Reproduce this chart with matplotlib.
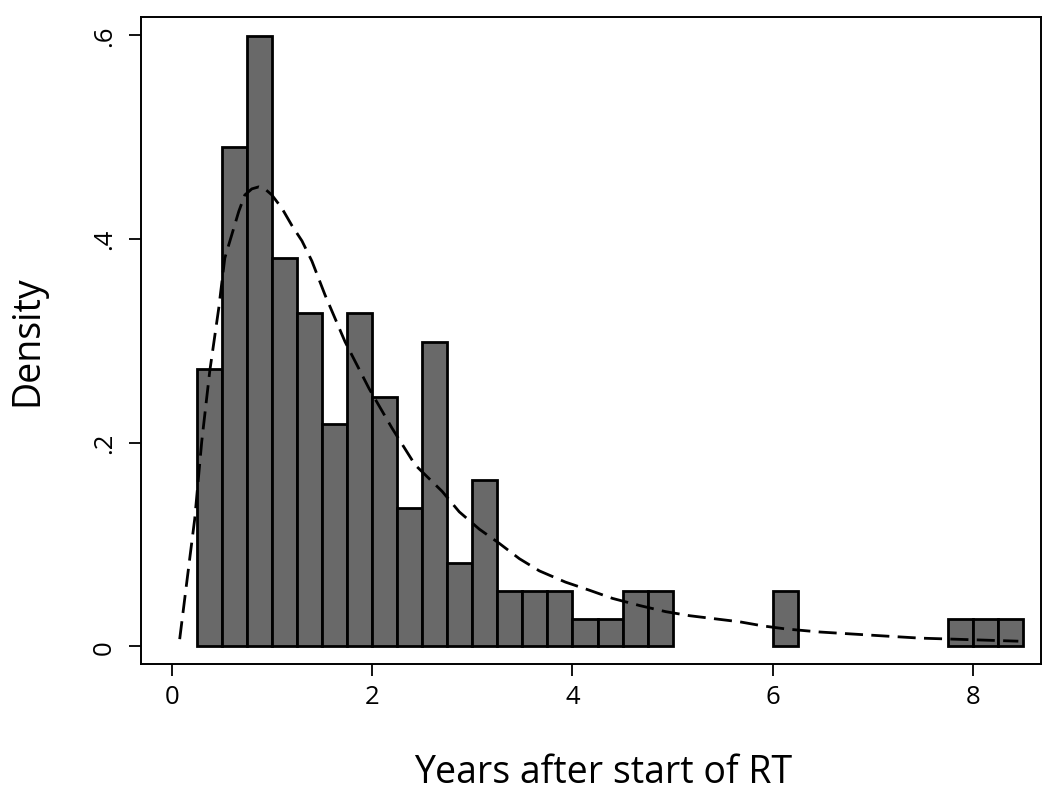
import matplotlib
matplotlib.use("Agg")
import matplotlib.pyplot as plt

# histogram bins (width 0.25), only non-empty bins
BIN_WIDTH = 0.25
bin_left = [0.25, 0.5, 0.75, 1.0, 1.25, 1.5, 1.75, 2.0, 2.25, 2.5, 2.75, 3.0,
            3.25, 3.5, 3.75, 4.0, 4.25, 4.5, 4.75, 6.0, 7.75, 8.0, 8.25]
density = [0.272, 0.490, 0.599, 0.381, 0.327, 0.218, 0.327, 0.245, 0.136,
           0.299, 0.082, 0.163, 0.054, 0.054, 0.054, 0.027, 0.027, 0.054,
           0.054, 0.054, 0.027, 0.027, 0.027]

# dashed fitted density curve
curve_x = [0.08, 0.18, 0.23, 0.30, 0.38, 0.47, 0.53, 0.60, 0.67, 0.73, 0.80,
           0.87, 0.93, 1.00, 1.10, 1.20, 1.30, 1.40, 1.53, 1.73, 1.97, 2.20,
           2.43, 2.70, 2.87, 3.07, 3.27, 3.47, 3.67, 3.93, 4.17, 4.40, 4.67,
           4.93, 5.17, 5.67, 5.90, 6.13, 6.47, 6.80, 7.13, 7.47, 7.80, 8.45]
curve_y = [0.007, 0.086, 0.125, 0.201, 0.270, 0.332, 0.381, 0.404, 0.427,
           0.443, 0.449, 0.451, 0.449, 0.443, 0.430, 0.413, 0.398, 0.378,
           0.345, 0.299, 0.253, 0.214, 0.178, 0.152, 0.132, 0.115, 0.101,
           0.086, 0.074, 0.063, 0.055, 0.047, 0.040, 0.034, 0.030, 0.024,
           0.020, 0.017, 0.014, 0.012, 0.010, 0.008, 0.007, 0.005]

x_ticks = [0, 2, 4, 6, 8]
x_ticklabels = ["0", "2", "4", "6", "8"]
y_ticks = [0, 0.2, 0.4, 0.6]
y_ticklabels = ["0", ".2", ".4", ".6"]

plt.rcParams["font.family"] = ["Open Sans", "DejaVu Sans"]

fig = plt.figure(figsize=(10.5, 8.04), dpi=100)
ax = fig.add_axes([0.1343, 0.1725, 0.8571, 0.8047])

ax.bar(bin_left, density, width=BIN_WIDTH, align="edge",
       color="#696969", edgecolor="black", linewidth=2.0, zorder=2)
ax.plot(curve_x, curve_y, color="black", linewidth=2.0,
        linestyle=(0, (6.5, 3)), zorder=3)

ax.set_xlim(-0.306, 8.676)
ax.set_ylim(-0.0177, 0.6174)

ax.set_xticks(x_ticks)
ax.set_xticklabels(x_ticklabels)
ax.set_yticks(y_ticks)
ax.set_yticklabels(y_ticklabels, rotation=90, va="center")

ax.tick_params(axis="both", direction="out", length=8.5, width=1.3,
               labelsize=18.5, color="black")
ax.tick_params(axis="x", pad=6)
ax.tick_params(axis="y", pad=9)

for spine in ax.spines.values():
    spine.set_linewidth(1.4)
    spine.set_color("black")

fig.text(603 / 1050, 1 - 773 / 804, "Years after start of RT",
         ha="center", va="center", fontsize=27)
fig.text(27 / 1050, 1 - 341 / 804, "Density", rotation=90,
         ha="center", va="center", fontsize=27)

fig.savefig("out.png", dpi=100)
